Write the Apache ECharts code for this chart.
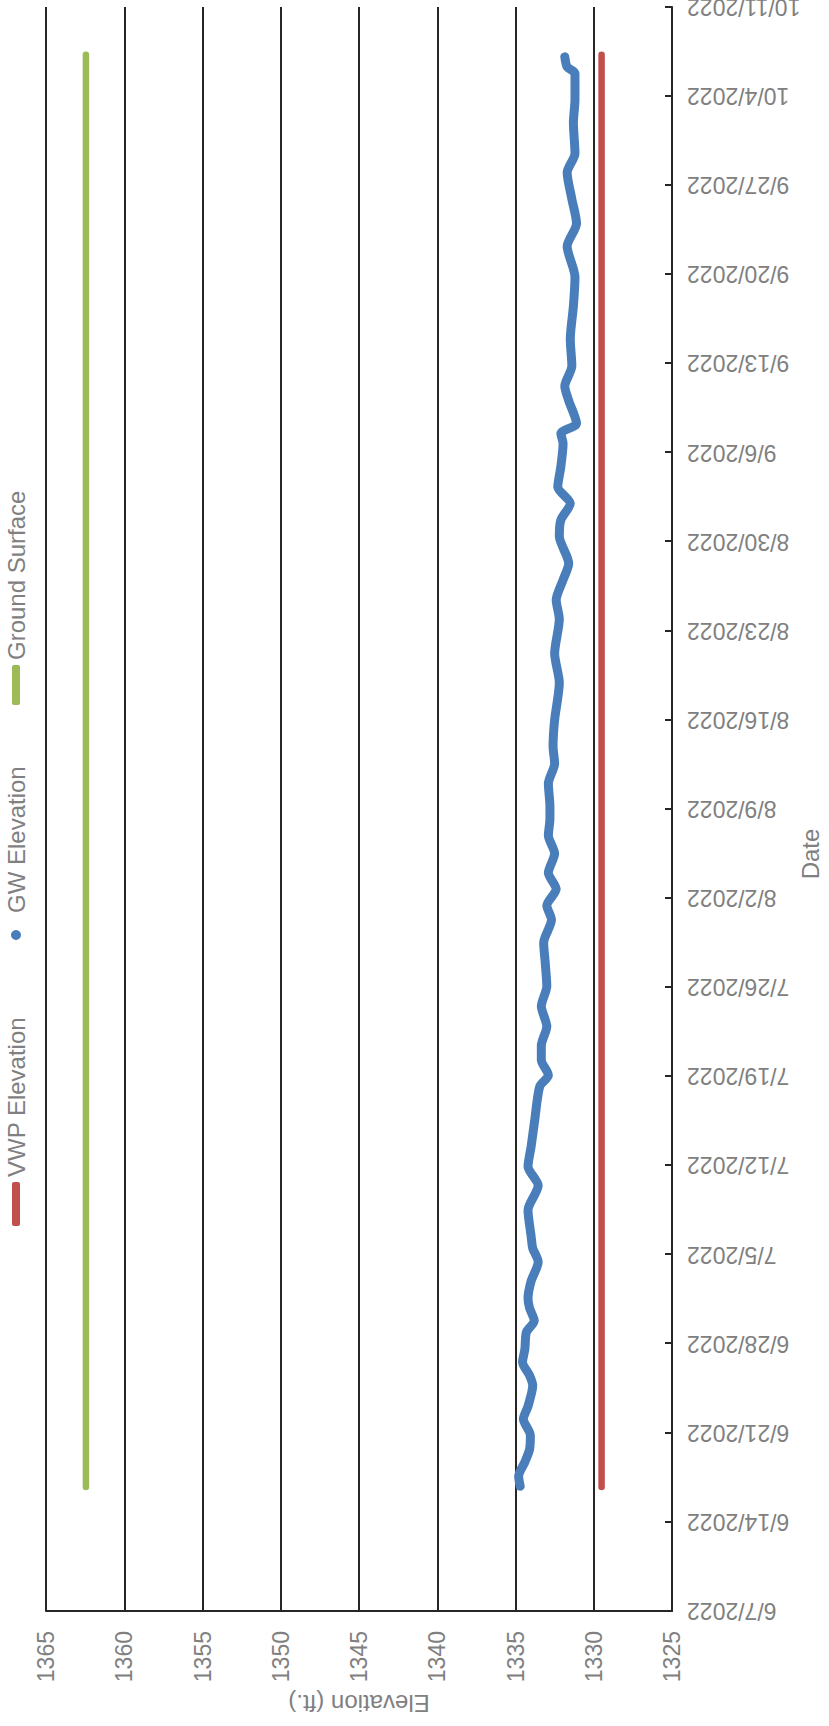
<!DOCTYPE html>
<html>
<head>
<meta charset="utf-8">
<title>VWP Elevation</title>
<script src="https://cdn.jsdelivr.net/npm/echarts@6/dist/echarts.min.js"></script>
<style>
  html, body { margin: 0; padding: 0; background: #ffffff; overflow: hidden; }
  body { width: 829px; height: 1726px; position: relative; }
  /* The chart is laid out in landscape and turned a quarter turn counter-clockwise */
  #chart {
    position: absolute; left: 0; top: 0;
    width: 1726px; height: 829px;
    transform-origin: 0 0;
    transform: translate(0, 1726px) rotate(-90deg);
  }
</style>
</head>
<body>
<div id="chart"></div>
<script>
// ---- data ----
const startDate = '2022-06-07';
const endDate = '2022-10-11';
const elevationTicks = [1325, 1330, 1335, 1340, 1345, 1350, 1355, 1360, 1365];

const vwpDates = ['2022-06-16 18:00', '2022-10-07 06:00'];
const vwpValues = [1329.5, 1329.5];

const groundDates = ['2022-06-16 18:00', '2022-10-07 06:00'];
const groundValues = [1362.45, 1362.45];

const gwDates = [
  '2022-06-16 19:00', '2022-06-17 14:00', '2022-06-18 17:00', '2022-06-19 17:00',
  '2022-06-20 19:00', '2022-06-22 02:00', '2022-06-23 02:00', '2022-06-24 17:00',
  '2022-06-25 12:00', '2022-06-26 13:00', '2022-06-27 14:00', '2022-06-28 22:00',
  '2022-06-29 19:00', '2022-06-30 19:00', '2022-07-01 13:00', '2022-07-02 22:00',
  '2022-07-04 10:00', '2022-07-05 12:00', '2022-07-06 10:00', '2022-07-08 12:00',
  '2022-07-10 10:00', '2022-07-11 22:00', '2022-07-13 12:00', '2022-07-15 14:00',
  '2022-07-18 05:00', '2022-07-19 02:00', '2022-07-20 07:00', '2022-07-21 10:00',
  '2022-07-22 22:00', '2022-07-24 12:00', '2022-07-26 02:00', '2022-07-27 22:00',
  '2022-07-29 12:00', '2022-07-31 07:00', '2022-08-01 10:00', '2022-08-02 17:00',
  '2022-08-04 00:00', '2022-08-05 12:00', '2022-08-06 22:00', '2022-08-08 05:00',
  '2022-08-09 05:00', '2022-08-11 00:00', '2022-08-12 14:00', '2022-08-13 22:00',
  '2022-08-16 00:00', '2022-08-18 22:00', '2022-08-21 05:00', '2022-08-23 22:00',
  '2022-08-25 10:00', '2022-08-27 00:00', '2022-08-28 07:00', '2022-08-30 10:00',
  '2022-08-31 17:00', '2022-09-02 00:00', '2022-09-03 07:00', '2022-09-04 22:00',
  '2022-09-06 17:00', '2022-09-07 12:00', '2022-09-08 07:00', '2022-09-10 02:00',
  '2022-09-11 05:00', '2022-09-12 19:00', '2022-09-14 22:00', '2022-09-17 12:00',
  '2022-09-19 19:00', '2022-09-22 05:00', '2022-09-24 00:00', '2022-09-25 22:00',
  '2022-09-28 00:00', '2022-09-29 12:00', '2022-10-01 22:00', '2022-10-03 17:00',
  '2022-10-05 19:00', '2022-10-06 07:00', '2022-10-07 02:00'
];
const gwValues = [
  1334.7, 1334.8, 1334.4, 1334.1,
  1334.05, 1334.5, 1334.2, 1333.9,
  1334.1, 1334.55, 1334.4, 1334.3,
  1333.8, 1334.1, 1334.2, 1334.0,
  1333.55, 1333.9, 1334.0, 1334.2,
  1333.55, 1334.2, 1334.0, 1333.77,
  1333.45, 1332.9, 1333.35, 1333.35,
  1333.0, 1333.35, 1333.0, 1333.1,
  1333.2, 1332.7, 1333.0, 1332.4,
  1332.9, 1332.5, 1332.9, 1332.8,
  1332.8, 1332.9, 1332.5, 1332.6,
  1332.5, 1332.2, 1332.5, 1332.2,
  1332.4, 1331.96, 1331.6, 1332.2,
  1332.1, 1331.5, 1332.3, 1332.1,
  1331.96, 1332.1, 1331.1, 1331.6,
  1331.85, 1331.4, 1331.5, 1331.3,
  1331.2, 1331.7, 1331.1, 1331.4,
  1331.7, 1331.2, 1331.3, 1331.2,
  1331.2, 1331.7, 1331.85
];

// ---- helpers: dates become day numbers counted from the first axis date ----
const DAY = 86400000;
function toUTC(s) {
  const [d, t] = s.split(' ');
  const [y, m, dd] = d.split('-').map(Number);
  const [hh, mm] = (t || '00:00').split(':').map(Number);
  return Date.UTC(y, m - 1, dd, hh, mm);
}
const origin = toUTC(startDate);
const dayNum = s => (toUTC(s) - origin) / DAY;
const pairs = (dates, vals) => dates.map((d, i) => [dayNum(d), vals[i]]);
function dayLabel(v) {
  const dt = new Date(origin + v * DAY);
  return (dt.getUTCMonth() + 1) + '/' + dt.getUTCDate() + '/' + dt.getUTCFullYear();
}

const FONT = '"Liberation Sans", Arial, sans-serif';
const TEXT = '#808080';
const DARK = '#262626';

// one legend entry per box so each key can sit where it belongs
function legendEntry(name, icon, left, w, h) {
  return {
    top: 4, left: left, padding: 0,
    itemWidth: w, itemHeight: h,
    textStyle: { color: TEXT, fontSize: 24, fontFamily: FONT },
    data: [{ name: name, icon: icon }]
  };
}

const chart = echarts.init(document.getElementById('chart'), null, { renderer: 'svg' });
chart.setOption({
  animation: false,
  backgroundColor: '#ffffff',
  textStyle: { fontFamily: FONT },
  legend: [
    legendEntry('VWP Elevation', 'roundRect', 500, 44, 8),
    legendEntry('GW Elevation', 'circle', 786, 34, 10),
    legendEntry('Ground Surface', 'roundRect', 1021, 40, 8)
  ],
  grid: { left: 115, right: 7, top: 46, bottom: 157, containLabel: false, outerBoundsMode: 'none' },
  xAxis: {
    type: 'value',
    min: 0,
    max: dayNum(endDate),
    interval: 7,
    name: 'Date',
    nameLocation: 'middle',
    nameGap: 126,
    nameMoveOverlap: false,
    nameTextStyle: { color: TEXT, fontSize: 24, fontFamily: FONT, padding: [0, 90, 0, 0] },
    axisLine: { show: true, lineStyle: { color: DARK, width: 2 } },
    axisTick: { show: true, inside: true, length: 7, lineStyle: { color: DARK, width: 2 } },
    axisLabel: {
      rotate: 90, margin: 15, color: TEXT, fontSize: 23, fontFamily: FONT,
      formatter: dayLabel
    },
    splitLine: { show: false }
  },
  yAxis: {
    type: 'value',
    min: elevationTicks[0],
    max: elevationTicks[elevationTicks.length - 1],
    interval: elevationTicks[1] - elevationTicks[0],
    name: 'Elevation (ft.)',
    nameLocation: 'middle',
    nameRotate: 90,
    nameGap: 80,
    nameMoveOverlap: false,
    nameTextStyle: { color: TEXT, fontSize: 24, fontFamily: FONT },
    axisLine: { show: true, lineStyle: { color: DARK, width: 2 } },
    axisTick: { show: false },
    axisLabel: { margin: 20, color: TEXT, fontSize: 23, fontFamily: FONT, formatter: v => String(v) },
    splitLine: { show: true, lineStyle: { color: DARK, width: 2 } }
  },
  series: [
    {
      name: 'VWP Elevation',
      type: 'line',
      data: pairs(vwpDates, vwpValues),
      showSymbol: false,
      color: '#C0504D',
      lineStyle: { width: 6.5, cap: 'round' }
    },
    {
      name: 'GW Elevation',
      type: 'line',
      data: pairs(gwDates, gwValues),
      showSymbol: false,
      smooth: 0.25,
      color: '#4A7EBB',
      lineStyle: { width: 9, cap: 'round', join: 'round' }
    },
    {
      name: 'Ground Surface',
      type: 'line',
      data: pairs(groundDates, groundValues),
      showSymbol: false,
      color: '#9BBB59',
      lineStyle: { width: 6.5, cap: 'round' }
    }
  ]
});
</script>
</body>
</html>
